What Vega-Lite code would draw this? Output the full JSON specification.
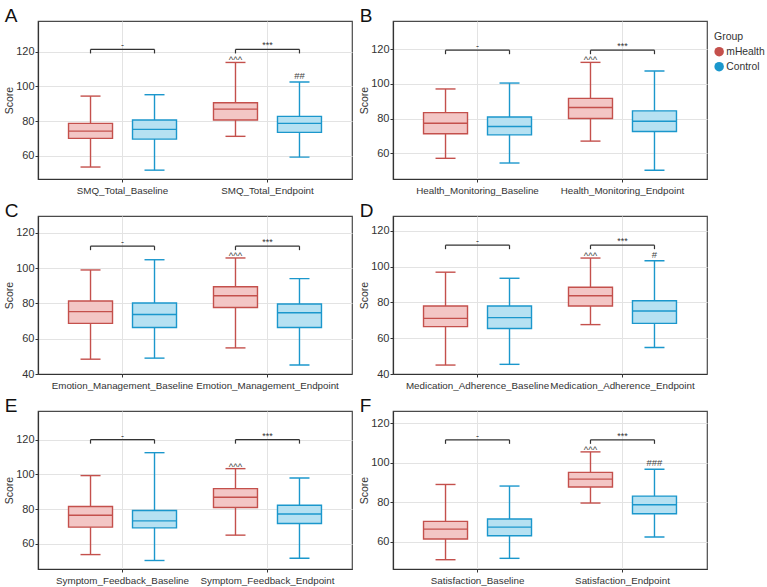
{
  "$schema": "https://vega.github.io/schema/vega-lite/v6.json",
  "background": "white",
  "padding": {"left": 4, "top": 6, "right": 0, "bottom": 0},
  "data": {
    "values": [
      {"panel": "A", "measure": "SMQ_Total_Baseline", "group": "mHealth", "lower": 53.5, "q1": 70.0, "median": 74.2, "q3": 78.7, "upper": 94.4, "bracket": 121.3, "sig": "-", "note": ""},
      {"panel": "A", "measure": "SMQ_Total_Baseline", "group": "Control", "lower": 51.7, "q1": 69.6, "median": 75.2, "q3": 80.6, "upper": 95.2, "bracket": 121.3, "sig": "", "note": ""},
      {"panel": "A", "measure": "SMQ_Total_Endpoint", "group": "mHealth", "lower": 71.2, "q1": 80.6, "median": 86.9, "q3": 90.6, "upper": 113.8, "bracket": 121.3, "sig": "***", "note": "^^^"},
      {"panel": "A", "measure": "SMQ_Total_Endpoint", "group": "Control", "lower": 59.2, "q1": 73.5, "median": 78.7, "q3": 82.7, "upper": 102.5, "bracket": 121.3, "sig": "", "note": "##"},

      {"panel": "B", "measure": "Health_Monitoring_Baseline", "group": "mHealth", "lower": 57.2, "q1": 71.3, "median": 77.4, "q3": 83.5, "upper": 97.1, "bracket": 119.4, "sig": "-", "note": ""},
      {"panel": "B", "measure": "Health_Monitoring_Baseline", "group": "Control", "lower": 54.5, "q1": 70.7, "median": 75.5, "q3": 81.0, "upper": 100.5, "bracket": 119.4, "sig": "", "note": ""},
      {"panel": "B", "measure": "Health_Monitoring_Endpoint", "group": "mHealth", "lower": 67.1, "q1": 80.1, "median": 86.4, "q3": 91.7, "upper": 112.4, "bracket": 119.4, "sig": "***", "note": "^^^"},
      {"panel": "B", "measure": "Health_Monitoring_Endpoint", "group": "Control", "lower": 50.3, "q1": 72.6, "median": 78.5, "q3": 84.5, "upper": 107.4, "bracket": 119.4, "sig": "", "note": ""},

      {"panel": "C", "measure": "Emotion_Management_Baseline", "group": "mHealth", "lower": 48.4, "q1": 68.7, "median": 75.4, "q3": 81.4, "upper": 99.0, "bracket": 112.5, "sig": "-", "note": ""},
      {"panel": "C", "measure": "Emotion_Management_Baseline", "group": "Control", "lower": 49.0, "q1": 66.4, "median": 73.7, "q3": 80.3, "upper": 104.8, "bracket": 112.5, "sig": "", "note": ""},
      {"panel": "C", "measure": "Emotion_Management_Endpoint", "group": "mHealth", "lower": 54.8, "q1": 77.7, "median": 84.4, "q3": 89.5, "upper": 105.8, "bracket": 112.5, "sig": "***", "note": "^^^"},
      {"panel": "C", "measure": "Emotion_Management_Endpoint", "group": "Control", "lower": 45.1, "q1": 66.4, "median": 74.7, "q3": 79.7, "upper": 94.1, "bracket": 112.5, "sig": "", "note": ""},

      {"panel": "D", "measure": "Medication_Adherence_Baseline", "group": "mHealth", "lower": 45.0, "q1": 66.5, "median": 71.1, "q3": 78.0, "upper": 96.9, "bracket": 112.0, "sig": "-", "note": ""},
      {"panel": "D", "measure": "Medication_Adherence_Baseline", "group": "Control", "lower": 45.4, "q1": 65.4, "median": 71.5, "q3": 78.0, "upper": 93.5, "bracket": 112.0, "sig": "", "note": ""},
      {"panel": "D", "measure": "Medication_Adherence_Endpoint", "group": "mHealth", "lower": 67.6, "q1": 78.0, "median": 83.7, "q3": 88.5, "upper": 104.8, "bracket": 112.0, "sig": "***", "note": "^^^"},
      {"panel": "D", "measure": "Medication_Adherence_Endpoint", "group": "Control", "lower": 54.8, "q1": 68.3, "median": 75.2, "q3": 80.9, "upper": 103.3, "bracket": 112.0, "sig": "", "note": "#"},

      {"panel": "E", "measure": "Symptom_Feedback_Baseline", "group": "mHealth", "lower": 53.8, "q1": 69.6, "median": 76.5, "q3": 81.5, "upper": 99.3, "bracket": 120.0, "sig": "-", "note": ""},
      {"panel": "E", "measure": "Symptom_Feedback_Baseline", "group": "Control", "lower": 50.4, "q1": 69.2, "median": 73.2, "q3": 79.2, "upper": 112.5, "bracket": 120.0, "sig": "", "note": ""},
      {"panel": "E", "measure": "Symptom_Feedback_Endpoint", "group": "mHealth", "lower": 65.0, "q1": 80.9, "median": 86.8, "q3": 91.8, "upper": 103.3, "bracket": 120.0, "sig": "***", "note": "^^^"},
      {"panel": "E", "measure": "Symptom_Feedback_Endpoint", "group": "Control", "lower": 51.7, "q1": 71.7, "median": 77.2, "q3": 82.2, "upper": 97.9, "bracket": 120.0, "sig": "", "note": ""},

      {"panel": "F", "measure": "Satisfaction_Baseline", "group": "mHealth", "lower": 50.9, "q1": 61.4, "median": 66.4, "q3": 70.3, "upper": 89.0, "bracket": 111.6, "sig": "-", "note": ""},
      {"panel": "F", "measure": "Satisfaction_Baseline", "group": "Control", "lower": 51.6, "q1": 63.0, "median": 67.4, "q3": 71.5, "upper": 88.2, "bracket": 111.6, "sig": "", "note": ""},
      {"panel": "F", "measure": "Satisfaction_Endpoint", "group": "mHealth", "lower": 79.6, "q1": 87.7, "median": 91.7, "q3": 95.1, "upper": 105.5, "bracket": 111.6, "sig": "***", "note": "^^^"},
      {"panel": "F", "measure": "Satisfaction_Endpoint", "group": "Control", "lower": 62.4, "q1": 74.2, "median": 78.7, "q3": 83.1, "upper": 96.7, "bracket": 111.6, "sig": "", "note": "###"}
    ]
  },
  "columns": 2,
  "spacing": {"row": 5, "column": 6},
  "concat": [
    {
      "title": {"text": "A"},
      "width": 314, "height": 158,
      "transform": [{"filter": "datum.panel === 'A'"}],
      "encoding": {"x": {"field": "measure", "type": "nominal", "title": null, "scale": {"paddingInner": 0, "paddingOuter": 0.083}, "axis": {"grid": true, "bandPosition": 0.5}}},
      "layer": [
        {"mark": {"type": "rule", "strokeWidth": 1.4}, "encoding": {"xOffset": {"field": "group", "type": "nominal", "sort": ["mHealth", "Control"], "scale": {"paddingInner": 0.3125, "paddingOuter": 0.289}}, "y": {"field": "lower", "type": "quantitative", "scale": {"domain": [46.6, 137.7], "nice": false}, "axis": {"title": "Score"}}, "y2": {"field": "upper"}, "stroke": {"field": "group", "type": "nominal", "sort": ["mHealth", "Control"], "scale": {"range": ["#c4504c", "#1b97cc"]}, "legend": null}}},
        {"mark": {"type": "bar", "strokeWidth": 1.4}, "encoding": {"xOffset": {"field": "group", "type": "nominal", "sort": ["mHealth", "Control"]}, "y": {"field": "q1", "type": "quantitative"}, "y2": {"field": "q3"}, "color": {"field": "group", "type": "nominal", "sort": ["mHealth", "Control"], "scale": {"range": ["#f3c6c5", "#b6e1f2"]}, "legend": null}, "stroke": {"field": "group", "type": "nominal", "sort": ["mHealth", "Control"], "legend": null}}},
        {"mark": {"type": "tick", "size": 20, "thickness": 1.4, "opacity": 1}, "encoding": {"xOffset": {"field": "group", "type": "nominal", "sort": ["mHealth", "Control"]}, "y": {"field": "lower", "type": "quantitative"}, "fill": {"field": "group", "type": "nominal", "sort": ["mHealth", "Control"], "title": "Group", "scale": {"range": ["#c4504c", "#1b97cc"]}}}},
        {"mark": {"type": "tick", "size": 20, "thickness": 1.4, "opacity": 1}, "encoding": {"xOffset": {"field": "group", "type": "nominal", "sort": ["mHealth", "Control"]}, "y": {"field": "upper", "type": "quantitative"}, "fill": {"field": "group", "type": "nominal", "sort": ["mHealth", "Control"], "title": "Group"}}},
        {"mark": {"type": "tick", "size": 44, "thickness": 1.4, "opacity": 1}, "encoding": {"xOffset": {"field": "group", "type": "nominal", "sort": ["mHealth", "Control"]}, "y": {"field": "median", "type": "quantitative"}, "fill": {"field": "group", "type": "nominal", "sort": ["mHealth", "Control"], "title": "Group"}}},
        {"mark": {"type": "line", "color": "#333", "strokeWidth": 1.2}, "encoding": {"xOffset": {"field": "group", "type": "nominal", "sort": ["mHealth", "Control"]}, "y": {"field": "bracket", "type": "quantitative"}, "detail": {"field": "measure"}}},
        {"mark": {"type": "rule", "color": "#333", "strokeWidth": 1.2, "y2Offset": 4}, "encoding": {"xOffset": {"field": "group", "type": "nominal", "sort": ["mHealth", "Control"]}, "y": {"field": "bracket", "type": "quantitative"}, "y2": {"field": "bracket"}}},
        {"transform": [{"filter": "datum.sig !== ''"}], "mark": {"type": "text", "baseline": "alphabetic", "dy": -1, "fontSize": 9, "color": "#333"}, "encoding": {"y": {"field": "bracket", "type": "quantitative"}, "text": {"field": "sig"}}},
        {"transform": [{"filter": "datum.group === 'mHealth'"}], "mark": {"type": "text", "baseline": "alphabetic", "dy": 1, "fontSize": 9.5, "color": "#444"}, "encoding": {"xOffset": {"field": "group", "type": "nominal", "sort": ["mHealth", "Control"]}, "y": {"field": "upper", "type": "quantitative"}, "text": {"field": "note"}}},
        {"transform": [{"filter": "datum.group === 'Control'"}], "mark": {"type": "text", "baseline": "alphabetic", "dy": -3, "fontSize": 9.5, "color": "#444"}, "encoding": {"xOffset": {"field": "group", "type": "nominal", "sort": ["mHealth", "Control"]}, "y": {"field": "upper", "type": "quantitative"}, "text": {"field": "note"}}}
      ]
    },
    {
      "title": {"text": "B"},
      "width": 314, "height": 158,
      "transform": [{"filter": "datum.panel === 'B'"}],
      "encoding": {"x": {"field": "measure", "type": "nominal", "title": null, "scale": {"paddingInner": 0, "paddingOuter": 0.083}, "axis": {"grid": true, "bandPosition": 0.5}}},
      "layer": [
        {"mark": {"type": "rule", "strokeWidth": 1.4}, "encoding": {"xOffset": {"field": "group", "type": "nominal", "sort": ["mHealth", "Control"], "scale": {"paddingInner": 0.3125, "paddingOuter": 0.289}}, "y": {"field": "lower", "type": "quantitative", "scale": {"domain": [45.3, 136.2], "nice": false}, "axis": {"title": "Score"}}, "y2": {"field": "upper"}, "stroke": {"field": "group", "type": "nominal", "sort": ["mHealth", "Control"], "scale": {"range": ["#c4504c", "#1b97cc"]}, "legend": null}}},
        {"mark": {"type": "bar", "strokeWidth": 1.4}, "encoding": {"xOffset": {"field": "group", "type": "nominal", "sort": ["mHealth", "Control"]}, "y": {"field": "q1", "type": "quantitative"}, "y2": {"field": "q3"}, "color": {"field": "group", "type": "nominal", "sort": ["mHealth", "Control"], "scale": {"range": ["#f3c6c5", "#b6e1f2"]}, "legend": null}, "stroke": {"field": "group", "type": "nominal", "sort": ["mHealth", "Control"], "legend": null}}},
        {"mark": {"type": "tick", "size": 20, "thickness": 1.4, "opacity": 1}, "encoding": {"xOffset": {"field": "group", "type": "nominal", "sort": ["mHealth", "Control"]}, "y": {"field": "lower", "type": "quantitative"}, "fill": {"field": "group", "type": "nominal", "sort": ["mHealth", "Control"], "title": "Group", "scale": {"range": ["#c4504c", "#1b97cc"]}}}},
        {"mark": {"type": "tick", "size": 20, "thickness": 1.4, "opacity": 1}, "encoding": {"xOffset": {"field": "group", "type": "nominal", "sort": ["mHealth", "Control"]}, "y": {"field": "upper", "type": "quantitative"}, "fill": {"field": "group", "type": "nominal", "sort": ["mHealth", "Control"], "title": "Group"}}},
        {"mark": {"type": "tick", "size": 44, "thickness": 1.4, "opacity": 1}, "encoding": {"xOffset": {"field": "group", "type": "nominal", "sort": ["mHealth", "Control"]}, "y": {"field": "median", "type": "quantitative"}, "fill": {"field": "group", "type": "nominal", "sort": ["mHealth", "Control"], "title": "Group"}}},
        {"mark": {"type": "line", "color": "#333", "strokeWidth": 1.2}, "encoding": {"xOffset": {"field": "group", "type": "nominal", "sort": ["mHealth", "Control"]}, "y": {"field": "bracket", "type": "quantitative"}, "detail": {"field": "measure"}}},
        {"mark": {"type": "rule", "color": "#333", "strokeWidth": 1.2, "y2Offset": 4}, "encoding": {"xOffset": {"field": "group", "type": "nominal", "sort": ["mHealth", "Control"]}, "y": {"field": "bracket", "type": "quantitative"}, "y2": {"field": "bracket"}}},
        {"transform": [{"filter": "datum.sig !== ''"}], "mark": {"type": "text", "baseline": "alphabetic", "dy": -1, "fontSize": 9, "color": "#333"}, "encoding": {"y": {"field": "bracket", "type": "quantitative"}, "text": {"field": "sig"}}},
        {"transform": [{"filter": "datum.group === 'mHealth'"}], "mark": {"type": "text", "baseline": "alphabetic", "dy": 1, "fontSize": 9.5, "color": "#444"}, "encoding": {"xOffset": {"field": "group", "type": "nominal", "sort": ["mHealth", "Control"]}, "y": {"field": "upper", "type": "quantitative"}, "text": {"field": "note"}}},
        {"transform": [{"filter": "datum.group === 'Control'"}], "mark": {"type": "text", "baseline": "alphabetic", "dy": -3, "fontSize": 9.5, "color": "#444"}, "encoding": {"xOffset": {"field": "group", "type": "nominal", "sort": ["mHealth", "Control"]}, "y": {"field": "upper", "type": "quantitative"}, "text": {"field": "note"}}}
      ]
    },
    {
      "title": {"text": "C"},
      "width": 314, "height": 158,
      "transform": [{"filter": "datum.panel === 'C'"}],
      "encoding": {"x": {"field": "measure", "type": "nominal", "title": null, "scale": {"paddingInner": 0, "paddingOuter": 0.083}, "axis": {"grid": true, "bandPosition": 0.5}}},
      "layer": [
        {"mark": {"type": "rule", "strokeWidth": 1.4}, "encoding": {"xOffset": {"field": "group", "type": "nominal", "sort": ["mHealth", "Control"], "scale": {"paddingInner": 0.3125, "paddingOuter": 0.289}}, "y": {"field": "lower", "type": "quantitative", "scale": {"domain": [40, 129.6], "nice": false}, "axis": {"title": "Score"}}, "y2": {"field": "upper"}, "stroke": {"field": "group", "type": "nominal", "sort": ["mHealth", "Control"], "scale": {"range": ["#c4504c", "#1b97cc"]}, "legend": null}}},
        {"mark": {"type": "bar", "strokeWidth": 1.4}, "encoding": {"xOffset": {"field": "group", "type": "nominal", "sort": ["mHealth", "Control"]}, "y": {"field": "q1", "type": "quantitative"}, "y2": {"field": "q3"}, "color": {"field": "group", "type": "nominal", "sort": ["mHealth", "Control"], "scale": {"range": ["#f3c6c5", "#b6e1f2"]}, "legend": null}, "stroke": {"field": "group", "type": "nominal", "sort": ["mHealth", "Control"], "legend": null}}},
        {"mark": {"type": "tick", "size": 20, "thickness": 1.4, "opacity": 1}, "encoding": {"xOffset": {"field": "group", "type": "nominal", "sort": ["mHealth", "Control"]}, "y": {"field": "lower", "type": "quantitative"}, "fill": {"field": "group", "type": "nominal", "sort": ["mHealth", "Control"], "title": "Group", "scale": {"range": ["#c4504c", "#1b97cc"]}}}},
        {"mark": {"type": "tick", "size": 20, "thickness": 1.4, "opacity": 1}, "encoding": {"xOffset": {"field": "group", "type": "nominal", "sort": ["mHealth", "Control"]}, "y": {"field": "upper", "type": "quantitative"}, "fill": {"field": "group", "type": "nominal", "sort": ["mHealth", "Control"], "title": "Group"}}},
        {"mark": {"type": "tick", "size": 44, "thickness": 1.4, "opacity": 1}, "encoding": {"xOffset": {"field": "group", "type": "nominal", "sort": ["mHealth", "Control"]}, "y": {"field": "median", "type": "quantitative"}, "fill": {"field": "group", "type": "nominal", "sort": ["mHealth", "Control"], "title": "Group"}}},
        {"mark": {"type": "line", "color": "#333", "strokeWidth": 1.2}, "encoding": {"xOffset": {"field": "group", "type": "nominal", "sort": ["mHealth", "Control"]}, "y": {"field": "bracket", "type": "quantitative"}, "detail": {"field": "measure"}}},
        {"mark": {"type": "rule", "color": "#333", "strokeWidth": 1.2, "y2Offset": 4}, "encoding": {"xOffset": {"field": "group", "type": "nominal", "sort": ["mHealth", "Control"]}, "y": {"field": "bracket", "type": "quantitative"}, "y2": {"field": "bracket"}}},
        {"transform": [{"filter": "datum.sig !== ''"}], "mark": {"type": "text", "baseline": "alphabetic", "dy": -1, "fontSize": 9, "color": "#333"}, "encoding": {"y": {"field": "bracket", "type": "quantitative"}, "text": {"field": "sig"}}},
        {"transform": [{"filter": "datum.group === 'mHealth'"}], "mark": {"type": "text", "baseline": "alphabetic", "dy": 1, "fontSize": 9.5, "color": "#444"}, "encoding": {"xOffset": {"field": "group", "type": "nominal", "sort": ["mHealth", "Control"]}, "y": {"field": "upper", "type": "quantitative"}, "text": {"field": "note"}}},
        {"transform": [{"filter": "datum.group === 'Control'"}], "mark": {"type": "text", "baseline": "alphabetic", "dy": -3, "fontSize": 9.5, "color": "#444"}, "encoding": {"xOffset": {"field": "group", "type": "nominal", "sort": ["mHealth", "Control"]}, "y": {"field": "upper", "type": "quantitative"}, "text": {"field": "note"}}}
      ]
    },
    {
      "title": {"text": "D"},
      "width": 314, "height": 158,
      "transform": [{"filter": "datum.panel === 'D'"}],
      "encoding": {"x": {"field": "measure", "type": "nominal", "title": null, "scale": {"paddingInner": 0, "paddingOuter": 0.083}, "axis": {"grid": true, "bandPosition": 0.5}}},
      "layer": [
        {"mark": {"type": "rule", "strokeWidth": 1.4}, "encoding": {"xOffset": {"field": "group", "type": "nominal", "sort": ["mHealth", "Control"], "scale": {"paddingInner": 0.3125, "paddingOuter": 0.289}}, "y": {"field": "lower", "type": "quantitative", "scale": {"domain": [40, 128.3], "nice": false}, "axis": {"title": "Score"}}, "y2": {"field": "upper"}, "stroke": {"field": "group", "type": "nominal", "sort": ["mHealth", "Control"], "scale": {"range": ["#c4504c", "#1b97cc"]}, "legend": null}}},
        {"mark": {"type": "bar", "strokeWidth": 1.4}, "encoding": {"xOffset": {"field": "group", "type": "nominal", "sort": ["mHealth", "Control"]}, "y": {"field": "q1", "type": "quantitative"}, "y2": {"field": "q3"}, "color": {"field": "group", "type": "nominal", "sort": ["mHealth", "Control"], "scale": {"range": ["#f3c6c5", "#b6e1f2"]}, "legend": null}, "stroke": {"field": "group", "type": "nominal", "sort": ["mHealth", "Control"], "legend": null}}},
        {"mark": {"type": "tick", "size": 20, "thickness": 1.4, "opacity": 1}, "encoding": {"xOffset": {"field": "group", "type": "nominal", "sort": ["mHealth", "Control"]}, "y": {"field": "lower", "type": "quantitative"}, "fill": {"field": "group", "type": "nominal", "sort": ["mHealth", "Control"], "title": "Group", "scale": {"range": ["#c4504c", "#1b97cc"]}}}},
        {"mark": {"type": "tick", "size": 20, "thickness": 1.4, "opacity": 1}, "encoding": {"xOffset": {"field": "group", "type": "nominal", "sort": ["mHealth", "Control"]}, "y": {"field": "upper", "type": "quantitative"}, "fill": {"field": "group", "type": "nominal", "sort": ["mHealth", "Control"], "title": "Group"}}},
        {"mark": {"type": "tick", "size": 44, "thickness": 1.4, "opacity": 1}, "encoding": {"xOffset": {"field": "group", "type": "nominal", "sort": ["mHealth", "Control"]}, "y": {"field": "median", "type": "quantitative"}, "fill": {"field": "group", "type": "nominal", "sort": ["mHealth", "Control"], "title": "Group"}}},
        {"mark": {"type": "line", "color": "#333", "strokeWidth": 1.2}, "encoding": {"xOffset": {"field": "group", "type": "nominal", "sort": ["mHealth", "Control"]}, "y": {"field": "bracket", "type": "quantitative"}, "detail": {"field": "measure"}}},
        {"mark": {"type": "rule", "color": "#333", "strokeWidth": 1.2, "y2Offset": 4}, "encoding": {"xOffset": {"field": "group", "type": "nominal", "sort": ["mHealth", "Control"]}, "y": {"field": "bracket", "type": "quantitative"}, "y2": {"field": "bracket"}}},
        {"transform": [{"filter": "datum.sig !== ''"}], "mark": {"type": "text", "baseline": "alphabetic", "dy": -1, "fontSize": 9, "color": "#333"}, "encoding": {"y": {"field": "bracket", "type": "quantitative"}, "text": {"field": "sig"}}},
        {"transform": [{"filter": "datum.group === 'mHealth'"}], "mark": {"type": "text", "baseline": "alphabetic", "dy": 1, "fontSize": 9.5, "color": "#444"}, "encoding": {"xOffset": {"field": "group", "type": "nominal", "sort": ["mHealth", "Control"]}, "y": {"field": "upper", "type": "quantitative"}, "text": {"field": "note"}}},
        {"transform": [{"filter": "datum.group === 'Control'"}], "mark": {"type": "text", "baseline": "alphabetic", "dy": -3, "fontSize": 9.5, "color": "#444"}, "encoding": {"xOffset": {"field": "group", "type": "nominal", "sort": ["mHealth", "Control"]}, "y": {"field": "upper", "type": "quantitative"}, "text": {"field": "note"}}}
      ]
    },
    {
      "title": {"text": "E"},
      "width": 314, "height": 158,
      "transform": [{"filter": "datum.panel === 'E'"}],
      "encoding": {"x": {"field": "measure", "type": "nominal", "title": null, "scale": {"paddingInner": 0, "paddingOuter": 0.083}, "axis": {"grid": true, "bandPosition": 0.5}}},
      "layer": [
        {"mark": {"type": "rule", "strokeWidth": 1.4}, "encoding": {"xOffset": {"field": "group", "type": "nominal", "sort": ["mHealth", "Control"], "scale": {"paddingInner": 0.3125, "paddingOuter": 0.289}}, "y": {"field": "lower", "type": "quantitative", "scale": {"domain": [45.5, 136.5], "nice": false}, "axis": {"title": "Score"}}, "y2": {"field": "upper"}, "stroke": {"field": "group", "type": "nominal", "sort": ["mHealth", "Control"], "scale": {"range": ["#c4504c", "#1b97cc"]}, "legend": null}}},
        {"mark": {"type": "bar", "strokeWidth": 1.4}, "encoding": {"xOffset": {"field": "group", "type": "nominal", "sort": ["mHealth", "Control"]}, "y": {"field": "q1", "type": "quantitative"}, "y2": {"field": "q3"}, "color": {"field": "group", "type": "nominal", "sort": ["mHealth", "Control"], "scale": {"range": ["#f3c6c5", "#b6e1f2"]}, "legend": null}, "stroke": {"field": "group", "type": "nominal", "sort": ["mHealth", "Control"], "legend": null}}},
        {"mark": {"type": "tick", "size": 20, "thickness": 1.4, "opacity": 1}, "encoding": {"xOffset": {"field": "group", "type": "nominal", "sort": ["mHealth", "Control"]}, "y": {"field": "lower", "type": "quantitative"}, "fill": {"field": "group", "type": "nominal", "sort": ["mHealth", "Control"], "title": "Group", "scale": {"range": ["#c4504c", "#1b97cc"]}}}},
        {"mark": {"type": "tick", "size": 20, "thickness": 1.4, "opacity": 1}, "encoding": {"xOffset": {"field": "group", "type": "nominal", "sort": ["mHealth", "Control"]}, "y": {"field": "upper", "type": "quantitative"}, "fill": {"field": "group", "type": "nominal", "sort": ["mHealth", "Control"], "title": "Group"}}},
        {"mark": {"type": "tick", "size": 44, "thickness": 1.4, "opacity": 1}, "encoding": {"xOffset": {"field": "group", "type": "nominal", "sort": ["mHealth", "Control"]}, "y": {"field": "median", "type": "quantitative"}, "fill": {"field": "group", "type": "nominal", "sort": ["mHealth", "Control"], "title": "Group"}}},
        {"mark": {"type": "line", "color": "#333", "strokeWidth": 1.2}, "encoding": {"xOffset": {"field": "group", "type": "nominal", "sort": ["mHealth", "Control"]}, "y": {"field": "bracket", "type": "quantitative"}, "detail": {"field": "measure"}}},
        {"mark": {"type": "rule", "color": "#333", "strokeWidth": 1.2, "y2Offset": 4}, "encoding": {"xOffset": {"field": "group", "type": "nominal", "sort": ["mHealth", "Control"]}, "y": {"field": "bracket", "type": "quantitative"}, "y2": {"field": "bracket"}}},
        {"transform": [{"filter": "datum.sig !== ''"}], "mark": {"type": "text", "baseline": "alphabetic", "dy": -1, "fontSize": 9, "color": "#333"}, "encoding": {"y": {"field": "bracket", "type": "quantitative"}, "text": {"field": "sig"}}},
        {"transform": [{"filter": "datum.group === 'mHealth'"}], "mark": {"type": "text", "baseline": "alphabetic", "dy": 1, "fontSize": 9.5, "color": "#444"}, "encoding": {"xOffset": {"field": "group", "type": "nominal", "sort": ["mHealth", "Control"]}, "y": {"field": "upper", "type": "quantitative"}, "text": {"field": "note"}}},
        {"transform": [{"filter": "datum.group === 'Control'"}], "mark": {"type": "text", "baseline": "alphabetic", "dy": -3, "fontSize": 9.5, "color": "#444"}, "encoding": {"xOffset": {"field": "group", "type": "nominal", "sort": ["mHealth", "Control"]}, "y": {"field": "upper", "type": "quantitative"}, "text": {"field": "note"}}}
      ]
    },
    {
      "title": {"text": "F"},
      "width": 314, "height": 158,
      "transform": [{"filter": "datum.panel === 'F'"}],
      "encoding": {"x": {"field": "measure", "type": "nominal", "title": null, "scale": {"paddingInner": 0, "paddingOuter": 0.083}, "axis": {"grid": true, "bandPosition": 0.5}}},
      "layer": [
        {"mark": {"type": "rule", "strokeWidth": 1.4}, "encoding": {"xOffset": {"field": "group", "type": "nominal", "sort": ["mHealth", "Control"], "scale": {"paddingInner": 0.3125, "paddingOuter": 0.289}}, "y": {"field": "lower", "type": "quantitative", "scale": {"domain": [46.2, 126.2], "nice": false}, "axis": {"title": "Score"}}, "y2": {"field": "upper"}, "stroke": {"field": "group", "type": "nominal", "sort": ["mHealth", "Control"], "scale": {"range": ["#c4504c", "#1b97cc"]}, "legend": null}}},
        {"mark": {"type": "bar", "strokeWidth": 1.4}, "encoding": {"xOffset": {"field": "group", "type": "nominal", "sort": ["mHealth", "Control"]}, "y": {"field": "q1", "type": "quantitative"}, "y2": {"field": "q3"}, "color": {"field": "group", "type": "nominal", "sort": ["mHealth", "Control"], "scale": {"range": ["#f3c6c5", "#b6e1f2"]}, "legend": null}, "stroke": {"field": "group", "type": "nominal", "sort": ["mHealth", "Control"], "legend": null}}},
        {"mark": {"type": "tick", "size": 20, "thickness": 1.4, "opacity": 1}, "encoding": {"xOffset": {"field": "group", "type": "nominal", "sort": ["mHealth", "Control"]}, "y": {"field": "lower", "type": "quantitative"}, "fill": {"field": "group", "type": "nominal", "sort": ["mHealth", "Control"], "title": "Group", "scale": {"range": ["#c4504c", "#1b97cc"]}}}},
        {"mark": {"type": "tick", "size": 20, "thickness": 1.4, "opacity": 1}, "encoding": {"xOffset": {"field": "group", "type": "nominal", "sort": ["mHealth", "Control"]}, "y": {"field": "upper", "type": "quantitative"}, "fill": {"field": "group", "type": "nominal", "sort": ["mHealth", "Control"], "title": "Group"}}},
        {"mark": {"type": "tick", "size": 44, "thickness": 1.4, "opacity": 1}, "encoding": {"xOffset": {"field": "group", "type": "nominal", "sort": ["mHealth", "Control"]}, "y": {"field": "median", "type": "quantitative"}, "fill": {"field": "group", "type": "nominal", "sort": ["mHealth", "Control"], "title": "Group"}}},
        {"mark": {"type": "line", "color": "#333", "strokeWidth": 1.2}, "encoding": {"xOffset": {"field": "group", "type": "nominal", "sort": ["mHealth", "Control"]}, "y": {"field": "bracket", "type": "quantitative"}, "detail": {"field": "measure"}}},
        {"mark": {"type": "rule", "color": "#333", "strokeWidth": 1.2, "y2Offset": 4}, "encoding": {"xOffset": {"field": "group", "type": "nominal", "sort": ["mHealth", "Control"]}, "y": {"field": "bracket", "type": "quantitative"}, "y2": {"field": "bracket"}}},
        {"transform": [{"filter": "datum.sig !== ''"}], "mark": {"type": "text", "baseline": "alphabetic", "dy": -1, "fontSize": 9, "color": "#333"}, "encoding": {"y": {"field": "bracket", "type": "quantitative"}, "text": {"field": "sig"}}},
        {"transform": [{"filter": "datum.group === 'mHealth'"}], "mark": {"type": "text", "baseline": "alphabetic", "dy": 1, "fontSize": 9.5, "color": "#444"}, "encoding": {"xOffset": {"field": "group", "type": "nominal", "sort": ["mHealth", "Control"]}, "y": {"field": "upper", "type": "quantitative"}, "text": {"field": "note"}}},
        {"transform": [{"filter": "datum.group === 'Control'"}], "mark": {"type": "text", "baseline": "alphabetic", "dy": -3, "fontSize": 9.5, "color": "#444"}, "encoding": {"xOffset": {"field": "group", "type": "nominal", "sort": ["mHealth", "Control"]}, "y": {"field": "upper", "type": "quantitative"}, "text": {"field": "note"}}}
      ]
    }
  ],
  "config": {
    "font": "Liberation Sans",
    "view": {"stroke": "#4a4a4a", "strokeWidth": 1.2},
    "axis": {
      "labelFont": "Liberation Sans", "labelFontSize": 11, "labelColor": "#333",
      "titleFont": "Liberation Sans", "titleFontSize": 10.5, "titleFontWeight": "normal", "titleColor": "#333",
      "domainColor": "#333", "domainWidth": 1.2, "tickColor": "#333", "tickSize": 3,
      "gridColor": "#e3e3e3", "gridWidth": 1
    },
    "axisY": {"tickCount": 5, "titlePadding": 1, "labelPadding": 1},
    "axisX": {"labelAngle": 0, "labelPadding": 3, "labelFontSize": 9.8, "labelOverlap": false, "labelBound": false},
    "title": {"anchor": "start", "frame": "bounds", "fontSize": 19, "fontWeight": "normal", "font": "Liberation Sans", "color": "#111", "offset": -5},
    "legend": {
      "orient": "right", "offset": -5, "padding": 11,
      "titleFont": "Liberation Sans", "titleFontSize": 10.5, "titleFontWeight": "normal", "titleColor": "#333", "titlePadding": 4,
      "labelFont": "Liberation Sans", "labelFontSize": 10.3, "labelColor": "#333", "labelOffset": 2,
      "symbolType": "circle", "symbolSize": 90, "symbolStrokeWidth": 0, "rowPadding": 4
    }
  }
}
